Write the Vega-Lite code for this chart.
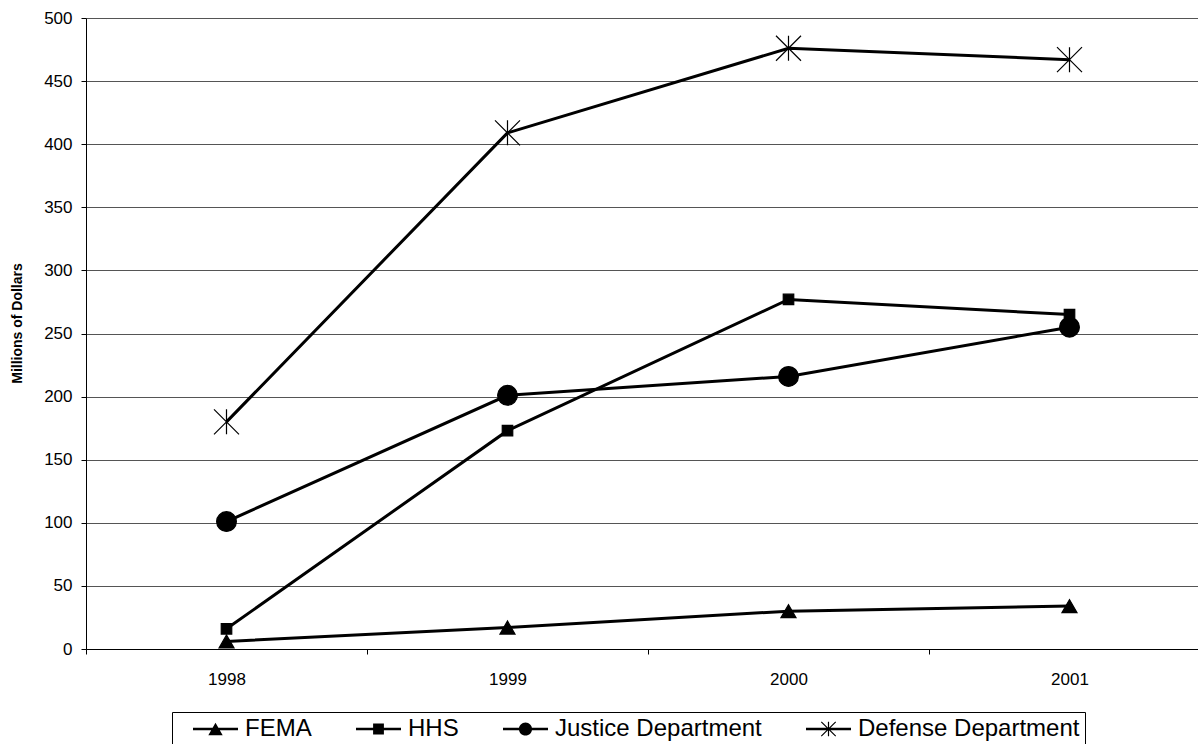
{
  "$schema": "https://vega.github.io/schema/vega-lite/v6.json",
  "width": 1112,
  "height": 631,
  "autosize": "none",
  "padding": {"left": 86, "top": 18, "right": 0, "bottom": 95},
  "background": "white",
  "config": {"font": "Liberation Sans", "view": {"stroke": null}},
  "data": {
    "values": [
      {"agency": "FEMA", "year": "1998", "value": 6},
      {"agency": "FEMA", "year": "1999", "value": 17},
      {"agency": "FEMA", "year": "2000", "value": 30},
      {"agency": "FEMA", "year": "2001", "value": 34},
      {"agency": "HHS", "year": "1998", "value": 16},
      {"agency": "HHS", "year": "1999", "value": 173},
      {"agency": "HHS", "year": "2000", "value": 277},
      {"agency": "HHS", "year": "2001", "value": 265},
      {"agency": "Justice Department", "year": "1998", "value": 101},
      {"agency": "Justice Department", "year": "1999", "value": 201},
      {"agency": "Justice Department", "year": "2000", "value": 216},
      {"agency": "Justice Department", "year": "2001", "value": 255},
      {"agency": "Defense Department", "year": "1998", "value": 180},
      {"agency": "Defense Department", "year": "1999", "value": 409},
      {"agency": "Defense Department", "year": "2000", "value": 476},
      {"agency": "Defense Department", "year": "2001", "value": 467}
    ]
  },
  "encoding": {
    "x": {
      "field": "year",
      "type": "ordinal",
      "bandPosition": 0.5,
      "scale": {"type": "band", "range": [0, 1124], "paddingInner": 0, "paddingOuter": 0},
      "axis": {
        "title": null,
        "tickBand": "extent",
        "labelAngle": 0,
        "labelFontSize": 17,
        "labelColor": "black",
        "labelPadding": 17,
        "tickSize": 5,
        "tickColor": "black",
        "domainColor": "black",
        "grid": false
      }
    },
    "y": {
      "field": "value",
      "type": "quantitative",
      "scale": {"domain": [0, 500], "nice": false},
      "axis": {
        "title": "Millions of Dollars",
        "titleFontSize": 14,
        "titleFontWeight": "bold",
        "titleColor": "black",
        "titleAngle": -90,
        "titleAlign": "center",
        "titleBaseline": "bottom",
        "titleX": -62,
        "titleY": 305,
        "values": [0, 50, 100, 150, 200, 250, 300, 350, 400, 450, 500],
        "labelFontSize": 17,
        "labelColor": "black",
        "labelPadding": 9,
        "tickSize": 5,
        "tickColor": "black",
        "domainColor": "black",
        "grid": true,
        "gridColor": "#555555",
        "gridOpacity": 1
      }
    }
  },
  "layer": [
    {
      "mark": {"type": "line", "color": "black", "strokeWidth": 3},
      "encoding": {"detail": {"field": "agency", "type": "nominal"}}
    },
    {
      "mark": {"type": "point", "filled": true, "fill": "black", "stroke": "black", "strokeWidth": 1.2, "opacity": 1, "size": 625},
      "encoding": {
        "shape": {
          "field": "agency",
          "type": "nominal",
          "scale": {
            "domain": ["FEMA", "HHS", "Justice Department", "Defense Department"],
            "range": [
              "M-0.6,0.52L0,-0.52L0.6,0.52Z",
              "M-0.42,-0.42L0.42,-0.42L0.42,0.42L-0.42,0.42Z",
              "M0.79,0A0.79,0.79,0,1,1,-0.79,0A0.79,0.79,0,1,1,0.79,0Z",
              "M-1,-1L1,1M-1,1L1,-1M0,-1L0,1"
            ]
          },
          "legend": null
        }
      }
    },
    {
      "mark": {"type": "point", "filled": true, "color": "black", "opacity": 0, "size": 576},
      "encoding": {
        "shape": {
          "field": "agency",
          "type": "nominal",
          "scale": {
            "domain": ["FEMA", "HHS", "Justice Department", "Defense Department"],
            "range": [
              "M-1.875,-0.1L1.875,-0.1L1.875,0.1L-1.875,0.1ZM-0.6,0.52L0,-0.52L0.6,0.52Z",
              "M-1.875,-0.1L1.875,-0.1L1.875,0.1L-1.875,0.1ZM-0.45,-0.45L0.45,-0.45L0.45,0.45L-0.45,0.45Z",
              "M-1.875,-0.1L1.875,-0.1L1.875,0.1L-1.875,0.1ZM0.55,0A0.55,0.55,0,1,1,-0.55,0A0.55,0.55,0,1,1,0.55,0Z",
              "M-1.875,-0.1L1.875,-0.1L1.875,0.1L-1.875,0.1ZM-0.05,-0.6L0.05,-0.6L0.05,0.6L-0.05,0.6ZM-0.635,-0.565L-0.565,-0.635L0.635,0.565L0.565,0.635ZM-0.565,0.635L-0.635,0.565L0.565,-0.635L0.635,-0.565Z"
            ]
          },
          "legend": {
            "orient": "none",
            "legendX": 86,
            "legendY": 694,
            "direction": "horizontal",
            "columns": 4,
            "title": null,
            "strokeColor": "black",
            "fillColor": "white",
            "padding": 5,
            "cornerRadius": 0,
            "symbolSize": 576,
            "symbolOffset": 26.5,
            "labelOffset": 17.5,
            "columnPadding": 28,
            "labelFontSize": 24,
            "labelColor": "black",
            "labelLimit": 400,
            "symbolStrokeWidth": 0,
            "symbolFillColor": "black",
            "symbolStrokeColor": "black",
            "symbolOpacity": 1
          }
        }
      }
    }
  ],
  "resolve": {"scale": {"shape": "independent"}, "legend": {"shape": "independent"}}
}
